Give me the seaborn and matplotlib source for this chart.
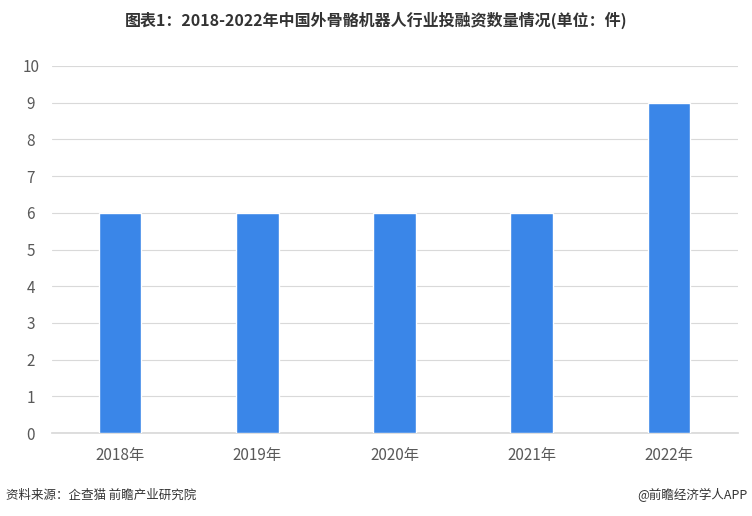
import matplotlib
matplotlib.use('Agg')
import matplotlib.pyplot as plt
import seaborn as sns
import pandas as pd

years = ['2018年', '2019年', '2020年', '2021年', '2022年']
counts = [6, 6, 6, 6, 9]

sns.set_theme(style='white')
plt.rcParams['font.family'] = ['Noto Sans CJK SC', 'DejaVu Sans']

df = pd.DataFrame({'year': years, 'count': counts})

fig = plt.figure(figsize=(7.52, 5.16), dpi=100)
ax = fig.add_axes([51.5 / 752, 1 - 433 / 516, 686 / 752, 367 / 516])
sns.barplot(data=df, x='year', y='count', color='#3A86E8', saturation=1,
            width=0.31, ax=ax, zorder=3)

ax.set_ylim(0, 10)
ax.set_yticks(range(0, 11))
ax.grid(axis='y', color='#D9D9D9', linewidth=0.8, zorder=0)
for s in ['top', 'right', 'left']:
    ax.spines[s].set_visible(False)
ax.spines['bottom'].set_color('#D9D9D9')
ax.tick_params(axis='both', length=0, labelsize=11, colors='#595959')
ax.tick_params(axis='x', pad=10)
ax.set_xlabel('')
ax.set_ylabel('')
for lbl in ax.get_yticklabels():
    lbl.set_horizontalalignment('center')
ax.tick_params(axis='y', pad=15)

fig.text(0.5, 1 - 20 / 516, '图表1：2018-2022年中国外骨骼机器人行业投融资数量情况(单位：件)',
         ha='center', va='center', fontsize=11.5, fontweight='bold', color='#333333')
fig.text(6 / 752, 1 - 495 / 516, '资料来源：企查猫 前瞻产业研究院',
         ha='left', va='center', fontsize=9, color='#333333')
fig.text(748 / 752, 1 - 495 / 516, '@前瞻经济学人APP',
         ha='right', va='center', fontsize=9, color='#333333')

fig.savefig('out.png', dpi=100)
